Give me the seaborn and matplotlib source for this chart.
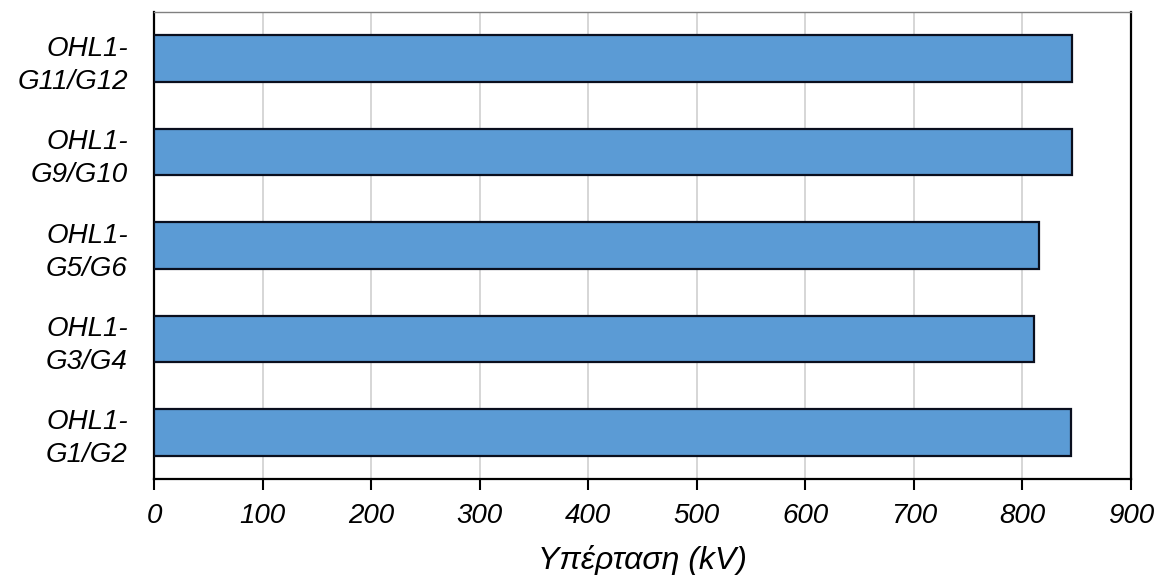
import matplotlib
matplotlib.use("Agg")
import matplotlib.pyplot as plt
import seaborn as sns
import pandas as pd

# Overvoltage per line segment (kV)
segments = ["OHL1-\nG11/G12", "OHL1-\nG9/G10", "OHL1-\nG5/G6", "OHL1-\nG3/G4", "OHL1-\nG1/G2"]
overvoltage_kv = [846, 845.5, 815, 811, 844.5]
x_ticks = [0, 100, 200, 300, 400, 500, 600, 700, 800, 900]
x_label = "Υπέρταση (kV)"

sns.set_theme(style="white")
plt.rcParams["font.family"] = ["Liberation Sans", "DejaVu Sans"]
plt.rcParams["text.color"] = "black"
plt.rcParams["axes.labelcolor"] = "black"
plt.rcParams["xtick.color"] = "black"
plt.rcParams["ytick.color"] = "black"

df = pd.DataFrame({"segment": segments, "kv": overvoltage_kv})

fig = plt.figure(figsize=(11.6, 5.75), dpi=100)
ax = fig.add_axes([0.1328, 0.167, 0.9750 - 0.1328, 0.979 - 0.167])

sns.barplot(data=df, x="kv", y="segment", orient="h", order=segments,
            color="#5B9BD5", saturation=1, width=0.5,
            edgecolor="#0a0f1e", linewidth=1.6, ax=ax, zorder=3)

ax.set_xlim(0, 900)
ax.set_xticks(x_ticks)
ax.set_xticklabels([str(t) for t in x_ticks], fontsize=20, style="italic")
ax.set_yticks(range(len(segments)))
ax.set_yticklabels(segments, fontsize=20, style="italic",
                   linespacing=1.35, ha="right")
ax.set_xlabel(x_label, fontsize=23, style="italic", labelpad=12)
ax.set_ylabel("")

ax.xaxis.grid(True, color="#d6d6d6", linewidth=1.4, zorder=0)
ax.yaxis.grid(False)
ax.set_axisbelow(True)

ax.tick_params(axis="x", direction="out", length=8, width=1.5,
               color="black", pad=9, bottom=True)
ax.tick_params(axis="y", length=0, pad=19)

for side in ["left", "bottom", "right"]:
    ax.spines[side].set_color("black")
    ax.spines[side].set_linewidth(1.6)
ax.spines["top"].set_color("#808080")
ax.spines["top"].set_linewidth(1.0)

fig.savefig("out.png", dpi=100)
